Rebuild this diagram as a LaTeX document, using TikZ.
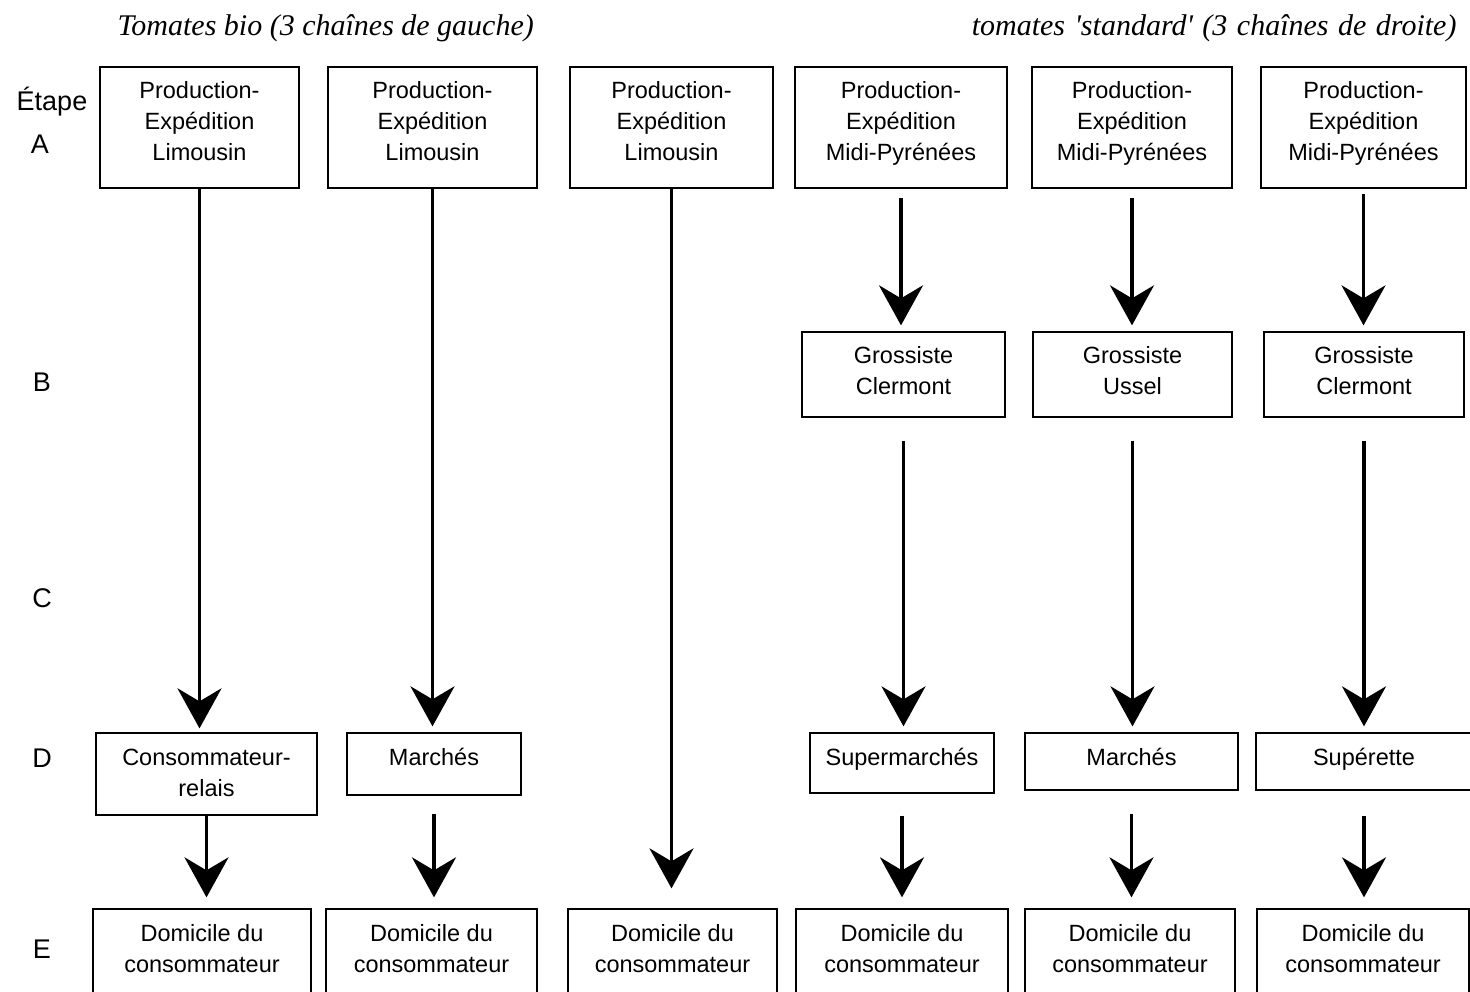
\documentclass[tikz,border=0pt]{standalone}
\usepackage{fontspec}
\newfontfamily\arialfont{Liberation Sans}
\newfontfamily\timesfont{Liberation Serif}
\usetikzlibrary{arrows.meta}

\tikzset{
  etapebox/.style={draw,line width=1.3pt,inner sep=0pt,align=center,
    font=\arialfont\fontsize{23.5}{31}\selectfont},
  oneline/.style={text height=17pt},
  twolines/.style={text height=48pt},
  threelines/.style={text height=79pt},
  flow/.style={line width=3.5pt,-{Stealth[length=40pt,width=44pt,inset=13pt]}},
  stage/.style={font=\arialfont\fontsize{27}{32}\selectfont,anchor=base},
  chaintitle/.style={font=\timesfont\itshape\fontsize{30}{34}\selectfont,anchor=base}
}

\begin{document}
\begin{tikzpicture}[x=1pt,y=-1pt]
\clip (0,0) rectangle (1470,991);
\fill[white] (0,0) rectangle (1470,991);

\node[chaintitle,anchor=base west] (tbio) at (114,35) {Tomates bio (3 chaînes de gauche)};
\node[chaintitle,anchor=base east] (tstd) at (1460,35) {\spaceskip=9.5pt tomates 'standard' (3 chaînes de droite)};

\node[stage] (etape) at (52,110) {Étape};
\node[stage] (sa) at (40,153) {A};
\node[stage] (sb) at (42,391) {B};
\node[stage] (sc) at (42,607) {C};
\node[stage] (sd) at (42,767) {D};
\node[stage] (se) at (42,958) {E};

% etape A
\node[etapebox,threelines,minimum width=199pt,minimum height=121pt,text depth=13pt] (pa1) at (199.5,127.5) {Production-\\Expédition\\Limousin};
\node[etapebox,threelines,minimum width=209pt,minimum height=121pt,text depth=13pt] (pa2) at (432.5,127.5) {Production-\\Expédition\\Limousin};
\node[etapebox,threelines,minimum width=203pt,minimum height=121pt,text depth=13pt] (pa3) at (671.5,127.5) {Production-\\Expédition\\Limousin};
\node[etapebox,threelines,minimum width=212pt,minimum height=121pt,text depth=13pt] (pa4) at (901,127.5) {Production-\\Expédition\\Midi-Pyrénées};
\node[etapebox,threelines,minimum width=200pt,minimum height=121pt,text depth=13pt] (pa5) at (1132,127.5) {Production-\\Expédition\\Midi-Pyrénées};
\node[etapebox,threelines,minimum width=205pt,minimum height=121pt,text depth=13pt] (pa6) at (1363.5,127.5) {Production-\\Expédition\\Midi-Pyrénées};

% etape B
\node[etapebox,twolines,minimum width=203pt,minimum height=85pt,text depth=8pt] (pb4) at (903.5,374.5) {Grossiste\\Clermont};
\node[etapebox,twolines,minimum width=199pt,minimum height=85pt,text depth=8pt] (pb5) at (1132.5,374.5) {Grossiste\\Ussel};
\node[etapebox,twolines,minimum width=200pt,minimum height=85pt,text depth=8pt] (pb6) at (1364,374.5) {Grossiste\\Clermont};

% etape D
\node[etapebox,twolines,minimum width=221pt,minimum height=82pt,text depth=3pt] (pd1) at (206.5,774) {Consommateur-\\relais};
\node[etapebox,oneline,minimum width=174pt,minimum height=62pt,text depth=14pt] (pd2) at (434,764) {Marchés};
\node[etapebox,oneline,minimum width=184pt,minimum height=60pt,text depth=12pt] (pd4) at (902,763) {Supermarchés};
\node[etapebox,oneline,minimum width=213pt,minimum height=57pt,text depth=9pt] (pd5) at (1131.5,761.5) {Marchés};
\node[etapebox,oneline,minimum width=216pt,minimum height=57pt,text depth=9pt] (pd6) at (1364,761.5) {Supérette};

% etape E
\node[etapebox,twolines,minimum width=218pt,minimum height=91pt,text depth=12pt] (pe1) at (202,954.5) {Domicile du\\consommateur};
\node[etapebox,twolines,minimum width=211pt,minimum height=91pt,text depth=12pt] (pe2) at (431.5,954.5) {Domicile du\\consommateur};
\node[etapebox,twolines,minimum width=209pt,minimum height=91pt,text depth=12pt] (pe3) at (672.5,954.5) {Domicile du\\consommateur};
\node[etapebox,twolines,minimum width=212pt,minimum height=91pt,text depth=12pt] (pe4) at (902,954.5) {Domicile du\\consommateur};
\node[etapebox,twolines,minimum width=210pt,minimum height=91pt,text depth=12pt] (pe5) at (1130,954.5) {Domicile du\\consommateur};
\node[etapebox,twolines,minimum width=212pt,minimum height=91pt,text depth=12pt] (pe6) at (1363,954.5) {Domicile du\\consommateur};

\draw[flow,shorten >=4pt] (pa1.south) -- (pa1.south |- pd1.north);
\draw[flow,shorten >=11pt] (pd1.south) -- (pd1.south |- pe1.north);
\draw[flow,shorten >=6pt] (pa2.south) -- (pa2.south |- pd2.north);
\draw[flow,shorten <=18pt,shorten >=11pt] (pd2.south) -- (pd2.south |- pe2.north);
\draw[flow,shorten >=20pt] (pa3.south) -- (pa3.south |- pe3.north);

\draw[flow,shorten <=9pt,shorten >=6pt] (pa4.south) -- (pa4.south |- pb4.north);
\draw[flow,shorten <=23pt,shorten >=6pt] (pb4.south) -- (pb4.south |- pd4.north);
\draw[flow,shorten <=22pt,shorten >=11pt] (pd4.south) -- (pd4.south |- pe4.north);
\draw[flow,shorten <=9pt,shorten >=6pt] (pa5.south) -- (pa5.south |- pb5.north);
\draw[flow,shorten <=23pt,shorten >=6pt] (pb5.south) -- (pb5.south |- pd5.north);
\draw[flow,shorten <=23pt,shorten >=11pt] (pd5.south) -- (pd5.south |- pe5.north);
\draw[flow,shorten <=5pt,shorten >=6pt] (pa6.south) -- (pa6.south |- pb6.north);
\draw[flow,shorten <=23pt,shorten >=6pt] (pb6.south) -- (pb6.south |- pd6.north);
\draw[flow,shorten <=25pt,shorten >=11pt] (pd6.south) -- (pd6.south |- pe6.north);
\end{tikzpicture}
\end{document}
